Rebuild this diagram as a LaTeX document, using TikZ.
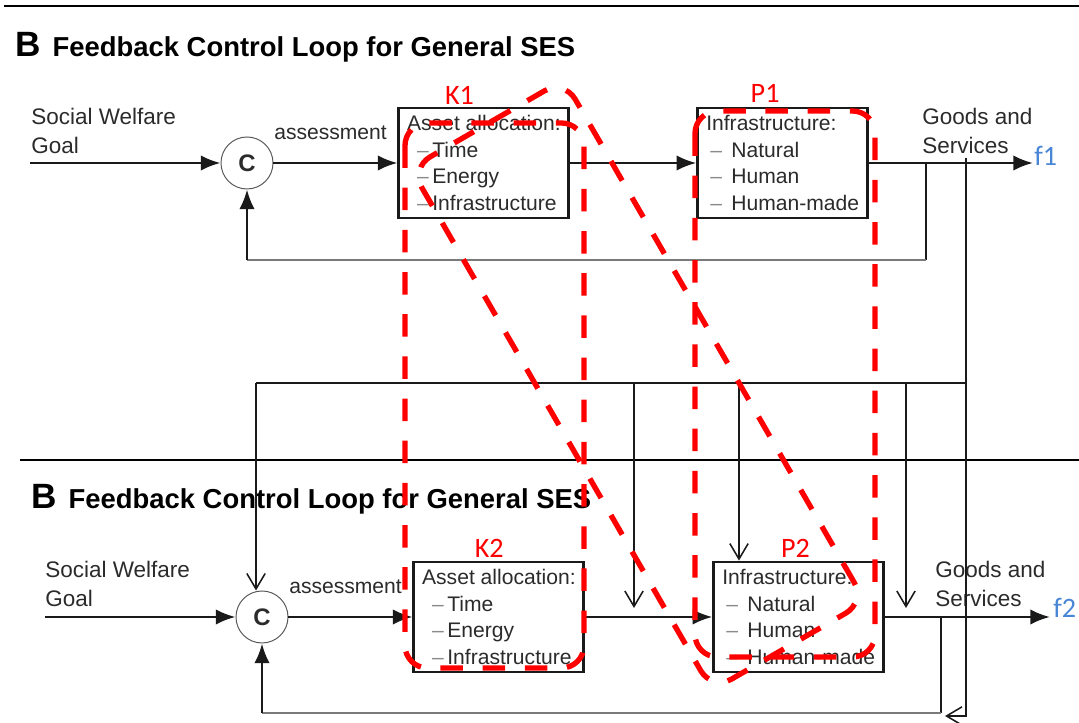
\documentclass[tikz,border=0pt]{standalone}
\usepackage{fontspec}
\setmainfont{Liberation Sans}
\newfontfamily\tagfont{Carlito}
\usetikzlibrary{arrows.meta,positioning}
\definecolor{ink}{HTML}{2B2B2B}
\definecolor{wire}{HTML}{1A1A1A}
\definecolor{fbgray}{HTML}{7A7A7A}
\definecolor{mark}{HTML}{FF0000}
\definecolor{flow}{HTML}{4A86D6}
\definecolor{tick}{HTML}{8A8A8A}
\newcommand{\itm}[2]{\hspace*{#1}{\color{tick}--}\,#2}
\tikzset{
  box/.style={draw=wire, line width=2pt, align=left, text=ink, font=\fontsize{15}{19}\selectfont, inner xsep=0.2cm, minimum width=4.25cm, minimum height=2.75cm},
  cmp/.style={circle, draw=black!65, line width=0.7pt, minimum size=1.3cm, inner sep=0pt, font=\fontsize{17}{17}\selectfont\bfseries, text=ink},
  txt/.style={align=left, text=ink, font=\fontsize{16}{20.6}\selectfont, inner sep=0pt},
  lbl/.style={text=ink, font=\fontsize{15}{15}\selectfont, inner sep=0pt},
  heading/.style={anchor=base west, inner sep=0pt, font=\fontsize{19.5}{20}\selectfont\bfseries, text=black},
  tag/.style={text=mark, font=\tagfont\fontsize{20}{20}\selectfont, inner sep=0pt},
  flowtag/.style={text=flow, font=\tagfont\fontsize{20}{20}\selectfont, inner sep=0pt},
  arrow/.style={-{Latex[length=14pt,width=11pt]}, line width=1.8pt, draw=wire},
  wireline/.style={line width=1.8pt, draw=wire},
  feedback/.style={line width=1.9pt, draw=fbgray},
  link/.style={line width=1.1pt, draw=wire},
  linkarrow/.style={link, -{Straight Barb[length=11pt,width=13pt]}},
  hrule/.style={line width=2pt, draw=black},
  group/.style={draw=mark, line width=3.8pt, dash pattern=on 16pt off 14pt, rounded corners=16pt}
}

\begin{document}
\begin{tikzpicture}
\useasboundingbox (0,0) rectangle (26.975,18.075);

\draw[hrule] (0.1,17.925) -- (26.975,17.925);
\draw[hrule] (0.5,6.575) -- (26.975,6.575);

% upper loop
\node[heading] (head1) at (0.375,16.65)
  {{\fontsize{25}{25}\selectfont B}\hspace{0.3cm}Feedback Control Loop for General SES};
\node[cmp] (C1) at (6.175,14) {C};
\node[box, right=3.1cm of C1] (K1)
  {Asset allocation:\\\itm{0.25cm}{Time}\\\itm{0.25cm}{Energy}\\\itm{0.25cm}{Infrastructure}};
\node[box, right=3.15cm of K1] (P1)
  {Infrastructure:\\\itm{0.1cm}{ Natural}\\\itm{0.1cm}{ Human}\\\itm{0.1cm}{ Human-made}};
\node[txt, anchor=west] (goal1) at (0.775,14.8125) {Social Welfare\\Goal};
\node[txt, anchor=west] (goods1) at (23.05,14.8125) {Goods and\\Services};

\coordinate (in1) at (0.75,14);
\coordinate (out1) at (25.825,14);
\coordinate (br1) at (23.15,14);
\coordinate (fb1) at (23.15,11.575);
\coordinate (fb1c) at (6.175,11.575);

\draw[arrow] (in1) -- (C1);
\draw[arrow] (C1) -- node[lbl, above=0.55cm, pos=0.46] {assessment} (K1);
\draw[arrow] (K1) -- (P1);
\draw[arrow] (P1) -- (out1) node[flowtag, right=0pt, yshift=0.18cm] {f1};
\draw[wireline] (br1) -- (fb1);
\draw[feedback] (fb1) -- (fb1c);
\draw[arrow] (fb1c) -- (C1);

% lower loop
\node[heading] (head2) at (0.775,5.35)
  {{\fontsize{25}{25}\selectfont B}\hspace{0.3cm}Feedback Control Loop for General SES};
\node[cmp] (C2) at (6.55,2.65) {C};
\node[box, right=3.1cm of C2] (K2)
  {Asset allocation:\\\itm{0.25cm}{Time}\\\itm{0.25cm}{Energy}\\\itm{0.25cm}{Infrastructure}};
\node[box, right=3.175cm of K2] (P2)
  {Infrastructure:\\\itm{0.1cm}{ Natural}\\\itm{0.1cm}{ Human}\\\itm{0.1cm}{ Human-made}};
\node[txt, anchor=west] (goal2) at (1.125,3.475) {Social Welfare\\Goal};
\node[txt, anchor=west] (goods2) at (23.375,3.475) {Goods and\\Services};

\coordinate (in2) at (1.125,2.65);
\coordinate (out2) at (26.25,2.65);
\coordinate (br2) at (23.525,2.65);
\coordinate (fb2) at (23.525,0.25);
\coordinate (fb2c) at (6.55,0.25);

\draw[arrow] (in2) -- (C2);
\draw[arrow] (C2) -- node[lbl, above=0.55cm, pos=0.46] {assessment} (K2);
\draw[arrow] (K2) -- (P2);
\draw[arrow] (P2) -- (out2) node[flowtag, right=0.05cm, yshift=0.22cm] {f2};
\draw[wireline] (br2) -- (fb2);
\draw[feedback] (fb2) -- (fb2c);
\draw[arrow] (fb2c) -- (C2);

% links from the upper output into the lower loop
\coordinate (tap) at (24.15,14.125);
\coordinate (tapend) at (24.15,0.175);
\coordinate (ret) at (23.625,0.175);
\coordinate (busL) at (6.4,8.5);
\coordinate (busR) at (24.15,8.5);
\coordinate (tapA) at (15.85,8.5);
\coordinate (dropA) at (15.85,2.875);
\coordinate (tapB) at (18.475,8.5);
\coordinate (tapC) at (22.65,8.5);
\coordinate (dropC) at (22.65,2.875);

\draw[linkarrow] (tap) -- (tapend) -- (ret);
\draw[link] (busL) -- (busR);
\draw[linkarrow] (busL) -- (busL |- C2.north);
\draw[linkarrow] (tapA) -- (dropA);
\draw[linkarrow] (tapB) -- (tapB |- P2.north);
\draw[linkarrow] (tapC) -- (dropC);

% red groupings
\node[tag, above=0.05cm of K1.north, xshift=-0.61cm] (k1tag) {K1};
\node[tag, above=0.1cm of P1.north, xshift=-0.44cm] (p1tag) {P1};
\node[tag, above=0.08cm of K2.north, xshift=-0.24cm] (k2tag) {K2};
\node[tag, above=0.08cm of P2.north, xshift=-0.08cm] (p2tag) {P2};
\draw[group] (10.125,15.0) rectangle (14.6,1.375);
\draw[group] (17.375,15.3) rectangle (21.875,1.65);
\node[group, rotate=-60, minimum width=15.075cm, minimum height=4.425cm] (diag) at (15.95,8.45) {};
\end{tikzpicture}
\end{document}
